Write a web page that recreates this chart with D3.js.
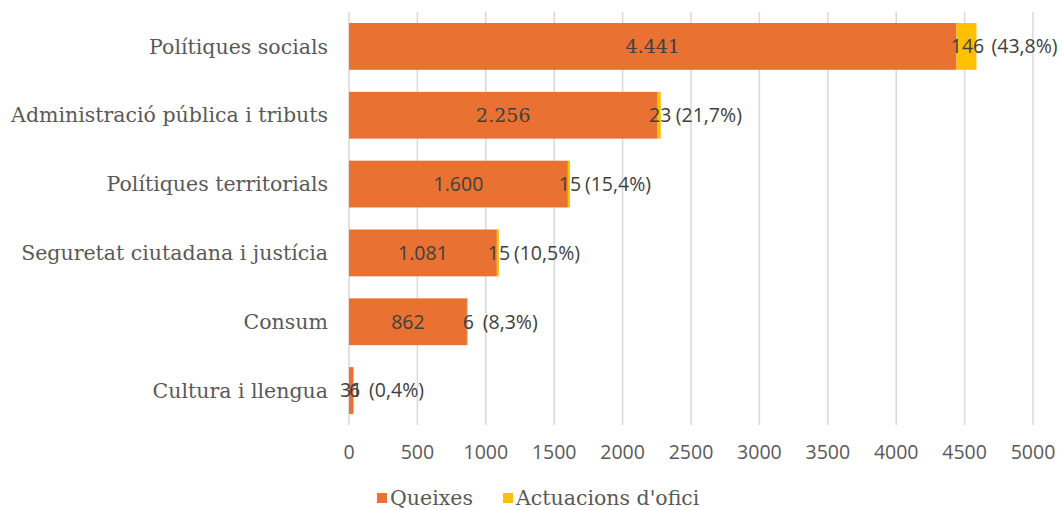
<!DOCTYPE html>
<html><head><meta charset="utf-8">
<script src="https://cdn.jsdelivr.net/npm/d3@7"></script>
<style>
body{margin:0;background:#fff;}
svg{display:block;}
</style></head>
<body>
<svg id="chart" width="1063" height="510"></svg>
<script>
const categories = ["Polítiques socials","Administració pública i tributs","Polítiques territorials","Seguretat ciutadana i justícia","Consum","Cultura i llengua"];
const queixes = [4441, 2256, 1600, 1081, 862, 31];
const actuacions = [146, 23, 15, 15, 6, 6];
const percentLabels = ["(43,8%)","(21,7%)","(15,4%)","(10,5%)","(8,3%)","(0,4%)"];
const xTicks = [0,500,1000,1500,2000,2500,3000,3500,4000,4500,5000];
const seriesNames = ["Queixes","Actuacions d'ofici"];
const colors = ["#E97132","#FFC000"];

const serif = "'DejaVu Serif', serif";
const sans = "'Open Sans', sans-serif";
const textColor = "#595959";
const labelColor = "#404040";

const svg = d3.select("#chart");
const x = d3.scaleLinear().domain([0,5000]).range([349,1033]);
const y = d3.scaleBand().domain(categories).range([12,425]).paddingInner(0.32).paddingOuter(0.16);

// gridlines
svg.append("g").selectAll("line").data(xTicks.slice(1)).join("line")
  .attr("x1",d=>x(d)).attr("x2",d=>x(d)).attr("y1",12).attr("y2",425)
  .attr("stroke","#d9d9d9").attr("stroke-width",1.5);
// category axis line
svg.append("line").attr("x1",x(0)).attr("x2",x(0)).attr("y1",12).attr("y2",425)
  .attr("stroke","#d9d9d9").attr("stroke-width",1.5);

// x tick labels
svg.append("g").selectAll("text").data(xTicks).join("text")
  .attr("x",d=>x(d)).attr("y",452).attr("dy","0.35em")
  .attr("text-anchor","middle").attr("font-family",sans).attr("font-size",19.5)
  .attr("fill",textColor).text(d=>d);

// category labels
svg.append("g").selectAll("text").data(categories).join("text")
  .attr("x",328).attr("y",d=>y(d)+y.bandwidth()/2).attr("dy","0.35em")
  .attr("text-anchor","end").attr("font-family",serif).attr("font-size",20.5)
  .attr("fill",textColor).text(d=>d);

const rows = categories.map((c,i)=>({c, i, q:queixes[i], a:actuacions[i], p:percentLabels[i]}));

// bars
const g = svg.append("g");
g.selectAll("rect.q").data(rows).join("rect").attr("class","q")
  .attr("x",x(0)).attr("y",d=>y(d.c)).attr("width",d=>x(d.q)-x(0)).attr("height",y.bandwidth())
  .attr("fill",colors[0]);
g.selectAll("rect.a").data(rows).join("rect").attr("class","a")
  .attr("x",d=>x(d.q)).attr("y",d=>y(d.c)).attr("width",d=>x(d.q+d.a)-x(d.q)).attr("height",y.bandwidth())
  .attr("fill",colors[1]);

const fmt = v => d3.format(",")(v).replace(/,/g,".");
// value labels
g.selectAll("text.ql").data(rows).join("text").attr("class","ql")
  .attr("x",d=>(x(0)+x(d.q))/2).attr("y",d=>y(d.c)+y.bandwidth()/2).attr("dy","0.35em")
  .attr("text-anchor","middle").attr("font-family",d=>d.i<2?serif:sans).attr("font-size",d=>d.i<2?19:19.5)
  .attr("fill",labelColor).text(d=>fmt(d.q));
g.selectAll("text.al").data(rows).join("text").attr("class","al")
  .attr("x",d=>(x(d.q)+x(d.q+d.a))/2+1).attr("y",d=>y(d.c)+y.bandwidth()/2).attr("dy","0.35em")
  .attr("text-anchor","middle").attr("font-family",sans).attr("font-size",19.5)
  .attr("fill",labelColor).text(d=>d.a);
g.selectAll("text.pl").data(rows).join("text").attr("class","pl")
  .attr("x",d=>x(d.q+d.a)+15).attr("y",d=>y(d.c)+y.bandwidth()/2).attr("dy","0.35em")
  .attr("text-anchor","start").attr("font-family",sans).attr("font-size",19.5)
  .attr("fill",labelColor).text(d=>d.p);

// legend
const legendX = [377, 503];
const leg = svg.append("g").selectAll("g").data(seriesNames).join("g")
  .attr("transform",(d,i)=>`translate(${legendX[i]},498)`);
leg.append("rect").attr("x",0).attr("y",-5).attr("width",10).attr("height",10).attr("fill",(d,i)=>colors[i]);
leg.append("text").attr("x",13).attr("y",0).attr("dy","0.35em")
  .attr("font-family",serif).attr("font-size",20.5).attr("fill",textColor).text(d=>d);
</script>
</body></html>
